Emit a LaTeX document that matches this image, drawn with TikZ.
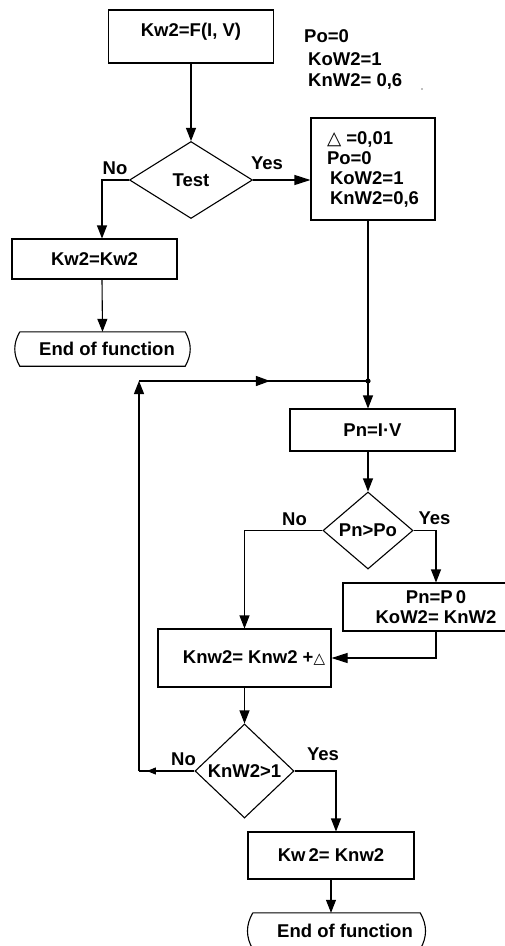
\documentclass[tikz,border=0pt]{standalone}
\usepackage{fontspec}
\setmainfont{Liberation Sans}
\newfontfamily\dejavu{DejaVu Sans}
\usetikzlibrary{arrows.meta,shapes.geometric,decorations.markings,calc}
\newcommand{\deltri}{{\dejavu\mdseries △}}
\newcommand{\smalltri}{{\dejavu\mdseries\fontsize{15}{15}\selectfont △}}
\begin{document}
\begin{tikzpicture}[x=1pt,y=-1pt,
  every node/.style={font=\fontsize{18.5}{20}\selectfont\bfseries, inner sep=0pt},
  box/.style={draw, rectangle, line width=1.1pt},
  dec/.style={draw, diamond, line width=1.1pt, aspect=1},
  term/.style={rectangle},
  lbl/.style={text height=13.25pt, text depth=0pt},
  sidetxt/.style={anchor=west, text height=13.25pt, text depth=0pt},
  conn/.style={line width=1.1pt},
  arr/.style={conn, -{Triangle[length=13pt,width=10pt]}},
  arrlong/.style={conn, -{Triangle[length=16pt,width=10pt]}},
  endmark/.style={postaction={decorate}, decoration={markings,
      mark=at position 0.857 with {\arrow{Triangle[length=9pt,width=7pt]}}}},
  midmark/.style={postaction={decorate}, decoration={markings,
      mark=at position 0.572 with {\arrow{Triangle[length=14pt,width=10pt]}}}}
]
\fill[white] (0,0) rectangle (504,946);
\useasboundingbox (0,0) rectangle (504,946);

% nodes
\node[box, minimum width=165pt, minimum height=53pt, text height=10pt, text depth=9.8pt] (b1) at (191,36.5) {Kw2=F(I, V)};
\node[sidetxt] (s1) at (304,36) {Po=0};
\node[sidetxt] (s2) at (308,58.5) {KoW2=1};
\node[sidetxt] (s3) at (308,80) {KnW2= 0,6};
\fill[gray] (422,89) circle (0.9pt);

\node[dec, minimum width=123pt, minimum height=77pt] (d1) at (191,180) {Test};
\node[box, minimum width=124pt, minimum height=102pt, align=left] (by) at (373,169)
  {\deltri\ =0,01\\Po=0\\\hspace*{3pt}KoW2=1\\\hspace*{3pt}KnW2=0,6};
\node[box, minimum width=165pt, minimum height=40pt] (bn) at (94.5,259) {Kw2=Kw2};
\node[term, minimum width=165pt, minimum height=34pt] (e1) at (102.5,349) {\hspace*{9pt}End of function};

\coordinate (dot) at (368,381);
\node[box, minimum width=165pt, minimum height=42pt] (bp) at (372.5,430) {Pn=I·V};
\node[dec, minimum width=90pt, minimum height=77pt] (d2) at (368,530.5) {Pn>Po};
\node[box, minimum width=186pt, minimum height=48pt, align=center] (bq) at (436,607) {Pn=P\,0\\KoW2= KnW2};
\node[box, minimum width=173pt, minimum height=58pt] (bk) at (244.5,658) {\hspace*{19pt}Knw2= Knw2 +\smalltri};
\node[dec, minimum width=99pt, minimum height=94pt] (d3) at (244.5,771) {KnW2>1};
\node[box, minimum width=166pt, minimum height=47pt] (bk2) at (331,855.5) {Kw\,2= Knw2};
\node[term, minimum width=167pt, minimum height=36pt] (e2) at (336.5,931) {\hspace*{17pt}End of function};

% terminal outlines
\draw[conn] (e1.north west) -- (e1.north east) to[bend left=30] (e1.south east)
  -- (e1.south west) to[bend left=30] (e1.north west);
\draw[conn] (e2.north west) -- (e2.north east) to[bend left=30] (e2.south east)
  -- (e2.south west) to[bend left=30] (e2.north west);

% labels
\node[lbl] (l1) at (115,168) {No};
\node[lbl] (l2) at (267,163) {Yes};
\node[lbl] (l3) at (294.5,519) {No};
\node[lbl] (l4) at (434.5,518) {Yes};
\node[lbl] (l5) at (183.5,759) {No};
\node[lbl] (l6) at (323,753.5) {Yes};

% connectors
\draw[arr] (b1.south) -- (d1.north);
\draw[arr] (d1.west) -| ([xshift=7.5pt]bn.north);
\draw[arr] ([xshift=7.5pt]bn.south) -- (e1.north);
\draw[arrlong] (d1.east) -- (d1.east -| by.west);
\draw[conn] ([xshift=-5pt]by.south) -- (dot);
\fill (dot) circle (2.6pt);
\draw[arr] (dot) -- (dot |- bp.north);
\draw[arr] (d2.north |- bp.south) -- (d2.north);
\draw[arr] (d2.east) -| (bq.north);
\draw[arr] (d2.west) -| (bk.north);
\draw[arrlong] (bq.south) |- (bk.east);
\draw[arr] (bk.south) -- (d3.north);
\coordinate (c2) at (139,381);
\coordinate (c1) at (d3.west -| c2);
\draw[conn, endmark] (d3.west) -- (c1);
\draw[arr] (c1) -- (c2);
\draw[conn, midmark] (c2) -- (dot);
\draw[arr] (d3.east) -| ([xshift=5pt]bk2.north);
\draw[arr] (bk2.south) -- (bk2.south |- e2.north);
\end{tikzpicture}
\end{document}
